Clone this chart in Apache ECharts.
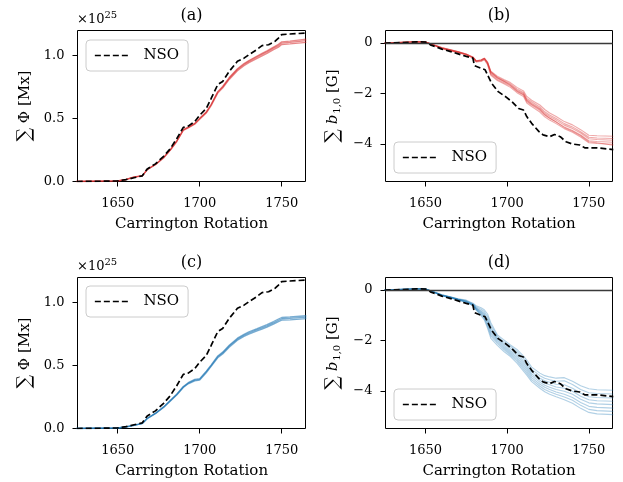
<!DOCTYPE html>
<html><head><meta charset="utf-8">
<script src="https://cdn.jsdelivr.net/npm/echarts@6/dist/echarts.min.js"></script>
<style>html,body{margin:0;padding:0;background:#fff}#c{width:623px;height:482px}</style>
</head><body><div id="c"></div>
<script>
// ---------- tick labels ----------
const xTicks = [1650, 1700, 1750];
const fluxTicks = [0, 0.5, 1.0];
const dipTicks = [0, -2, -4];
const panelTitles = ['(a)', '(b)', '(c)', '(d)'];

// ---------- NSO observations (shared by top and bottom rows) ----------
const nsoFluxCR = [1625, 1640, 1650, 1655, 1660, 1665, 1666, 1668, 1673, 1678, 1682, 1686, 1690, 1693, 1697, 1700, 1704, 1707, 1711, 1714, 1718, 1723, 1727, 1730, 1735, 1738, 1742, 1746, 1748, 1750, 1755, 1765];
const nsoFlux   = [0, 0.002, 0.005, 0.015, 0.03, 0.045, 0.05, 0.10, 0.14, 0.20, 0.26, 0.34, 0.43, 0.44, 0.476, 0.527, 0.58, 0.66, 0.77, 0.795, 0.875, 0.955, 0.98, 1.008, 1.05, 1.08, 1.087, 1.115, 1.14, 1.168, 1.172, 1.18];

const nsoDipCR = [1625, 1635, 1645, 1650, 1653, 1657, 1660, 1665, 1670, 1675, 1679, 1680, 1684, 1686.5, 1688.5, 1690.5, 1694.5, 1699, 1703, 1707, 1710, 1712, 1715, 1719.5, 1722, 1726, 1729, 1732.5, 1736, 1740, 1744.5, 1747.5, 1755, 1765];
const nsoDip   = [0, 0.02, 0.05, 0.04, -0.07, -0.16, -0.24, -0.33, -0.43, -0.53, -0.6, -0.9, -1.0, -1.06, -1.33, -1.6, -1.93, -2.13, -2.33, -2.6, -2.66, -2.92, -3.19, -3.52, -3.65, -3.72, -3.63, -3.72, -3.92, -4.01, -4.05, -4.16, -4.16, -4.23];

// ---------- model flux ensembles ----------
const simFluxCR = [1625, 1650, 1655, 1660, 1665, 1668, 1673, 1678, 1682, 1686, 1690, 1693, 1697, 1700, 1704, 1707, 1711, 1714, 1718, 1723, 1727, 1730, 1735, 1738, 1741, 1745, 1748, 1750, 1755, 1765];
const fluxRed1 = [0, 0.005, 0.016, 0.036, 0.046, 0.096, 0.136, 0.192, 0.252, 0.322, 0.412, 0.432, 0.462, 0.502, 0.553, 0.614, 0.714, 0.755, 0.826, 0.896, 0.937, 0.962, 0.997, 1.018, 1.038, 1.068, 1.09, 1.11, 1.116, 1.132];
const fluxRed2 = [0, 0.005, 0.015, 0.035, 0.045, 0.095, 0.135, 0.19, 0.25, 0.32, 0.41, 0.43, 0.46, 0.50, 0.55, 0.61, 0.71, 0.75, 0.82, 0.89, 0.93, 0.955, 0.99, 1.01, 1.03, 1.06, 1.08, 1.10, 1.105, 1.12];
const fluxRed3 = [0, 0.005, 0.014, 0.034, 0.044, 0.093, 0.133, 0.187, 0.247, 0.316, 0.405, 0.425, 0.455, 0.494, 0.544, 0.603, 0.702, 0.742, 0.811, 0.88, 0.92, 0.945, 0.978, 0.998, 1.018, 1.048, 1.068, 1.088, 1.093, 1.106];

const fluxBlue1 = [0, 0.004, 0.013, 0.026, 0.041, 0.081, 0.121, 0.172, 0.222, 0.273, 0.334, 0.364, 0.39, 0.396, 0.456, 0.506, 0.577, 0.607, 0.662, 0.718, 0.748, 0.769, 0.794, 0.81, 0.825, 0.85, 0.87, 0.882, 0.886, 0.896];
const fluxBlue2 = [0, 0.004, 0.013, 0.025, 0.04, 0.08, 0.12, 0.17, 0.22, 0.27, 0.33, 0.36, 0.385, 0.39, 0.45, 0.50, 0.57, 0.60, 0.655, 0.71, 0.74, 0.76, 0.785, 0.80, 0.815, 0.84, 0.86, 0.872, 0.875, 0.885];
const fluxBlue3 = [0, 0.004, 0.012, 0.024, 0.039, 0.078, 0.118, 0.167, 0.217, 0.266, 0.325, 0.355, 0.379, 0.384, 0.443, 0.493, 0.562, 0.592, 0.646, 0.701, 0.731, 0.75, 0.775, 0.79, 0.805, 0.829, 0.849, 0.861, 0.864, 0.873];

// ---------- model dipole ensembles ----------
const simDipCR = [1625, 1645, 1650, 1655, 1660, 1665, 1670, 1675, 1679, 1681, 1684, 1686, 1688, 1690, 1694, 1698, 1702, 1706, 1710, 1712, 1715, 1720, 1723, 1726, 1730, 1735, 1740, 1745, 1750, 1755, 1765];
const dipRed1 = [0, .05, .04, -.07, -.18, -.26, -.34, -.43, -.55, -.70, -.66, -.60, -.75, -1.12, -1.32, -1.45, -1.57, -1.76, -1.90, -2.12, -2.27, -2.46, -2.64, -2.78, -2.92, -3.12, -3.25, -3.44, -3.66, -3.68, -3.70];
const dipRed2 = [0, .05, .04, -.08, -.19, -.27, -.35, -.44, -.56, -.71, -.68, -.61, -.78, -1.16, -1.36, -1.49, -1.62, -1.82, -1.96, -2.20, -2.33, -2.54, -2.73, -2.86, -3.00, -3.20, -3.33, -3.52, -3.74, -3.77, -3.79];
const dipRed3 = [0, .05, .04, -.08, -.20, -.28, -.36, -.45, -.57, -.72, -.69, -.62, -.80, -1.20, -1.40, -1.53, -1.66, -1.86, -2.00, -2.25, -2.39, -2.60, -2.79, -2.92, -3.06, -3.26, -3.39, -3.57, -3.80, -3.83, -3.86];
const dipRed4 = [0, .05, .04, -.09, -.21, -.29, -.37, -.46, -.58, -.74, -.71, -.64, -.83, -1.24, -1.45, -1.58, -1.71, -1.92, -2.06, -2.32, -2.46, -2.67, -2.86, -2.99, -3.13, -3.33, -3.47, -3.65, -3.88, -3.91, -3.94];
const dipRed5 = [0, .05, .04, -.09, -.22, -.30, -.38, -.47, -.59, -.75, -.73, -.66, -.86, -1.28, -1.49, -1.62, -1.76, -1.97, -2.12, -2.38, -2.52, -2.74, -2.93, -3.06, -3.20, -3.40, -3.54, -3.73, -3.96, -3.99, -4.02];
const dipRed6 = [0, .05, .04, -.07, -.19, -.27, -.35, -.44, -.56, -.71, -.67, -.60, -.77, -1.14, -1.38, -1.52, -1.68, -1.90, -2.04, -2.28, -2.43, -2.63, -2.84, -2.98, -3.14, -3.36, -3.50, -3.68, -3.92, -3.96, -4.06];

const dipBlue1 = [0, .05, .04, -.07, -.19, -.27, -.35, -.40, -.52, -.62, -.70, -.78, -.95, -1.30, -1.78, -1.98, -2.18, -2.36, -2.62, -2.78, -3.06, -3.30, -3.40, -3.45, -3.50, -3.48, -3.62, -3.80, -3.92, -3.96, -3.98];
const dipBlue2 = [0, .05, .04, -.07, -.19, -.27, -.36, -.42, -.54, -.66, -.76, -.85, -1.05, -1.40, -1.84, -2.05, -2.24, -2.44, -2.72, -2.88, -3.15, -3.40, -3.50, -3.56, -3.62, -3.60, -3.75, -3.95, -4.08, -4.11, -4.13];
const dipBlue3 = [0, .05, .04, -.08, -.20, -.28, -.37, -.44, -.56, -.70, -.82, -.92, -1.15, -1.50, -1.90, -2.12, -2.32, -2.52, -2.82, -2.98, -3.25, -3.50, -3.60, -3.66, -3.74, -3.76, -3.90, -4.10, -4.24, -4.27, -4.29];
const dipBlue4 = [0, .05, .04, -.08, -.20, -.28, -.37, -.45, -.57, -.72, -.86, -.97, -1.22, -1.58, -1.95, -2.18, -2.40, -2.60, -2.90, -3.06, -3.33, -3.58, -3.70, -3.76, -3.85, -3.90, -4.02, -4.22, -4.36, -4.40, -4.42];
const dipBlue5 = [0, .05, .04, -.08, -.21, -.29, -.38, -.46, -.58, -.74, -.90, -1.02, -1.30, -1.66, -2.00, -2.24, -2.46, -2.68, -2.98, -3.14, -3.40, -3.66, -3.78, -3.86, -3.95, -4.02, -4.14, -4.34, -4.48, -4.52, -4.55];
const dipBlue6 = [0, .05, .04, -.09, -.21, -.29, -.38, -.47, -.59, -.76, -.94, -1.08, -1.38, -1.74, -2.06, -2.30, -2.52, -2.75, -3.06, -3.22, -3.48, -3.74, -3.86, -3.95, -4.05, -4.14, -4.27, -4.47, -4.62, -4.66, -4.69];
const dipBlue7 = [0, .05, .04, -.09, -.22, -.30, -.39, -.48, -.60, -.78, -.98, -1.12, -1.45, -1.82, -2.12, -2.36, -2.58, -2.82, -3.14, -3.30, -3.56, -3.82, -3.95, -4.04, -4.14, -4.25, -4.38, -4.58, -4.74, -4.79, -4.82];
const dipBlue8 = [0, .05, .04, -.09, -.22, -.30, -.39, -.49, -.61, -.80, -1.02, -1.18, -1.52, -1.92, -2.20, -2.44, -2.64, -2.90, -3.22, -3.38, -3.64, -3.90, -4.04, -4.14, -4.24, -4.36, -4.50, -4.70, -4.86, -4.92, -4.95];

// ---------- build ----------
const FONT = "'DejaVu Serif', serif";
const RED = '#d62728', BLUE = '#1f77b4';
const zip = (xs, ys) => xs.map((x, i) => [x, ys[i]]);

const grids = [
  {left: 77.5, top: 30.5, width: 228, height: 151},
  {left: 385.5, top: 30.5, width: 227, height: 151},
  {left: 77.5, top: 277.5, width: 228, height: 151},
  {left: 385.5, top: 277.5, width: 227, height: 151}
].map(g => Object.assign(g, {show: true, borderColor: '#000', borderWidth: 1, backgroundColor: 'transparent', containLabel: false}));

const xAxes = grids.map((g, i) => ({
  type: 'value', gridIndex: i, min: 1625.5, max: 1764.5,
  name: 'Carrington Rotation', nameLocation: 'middle', nameGap: 35,
  nameTextStyle: {fontFamily: FONT, fontSize: 15, color: '#000'},
  axisLine: {show: false, onZero: false},
  axisTick: {show: true, length: 5, lineStyle: {color: '#000', width: 1}, customValues: xTicks},
  axisLabel: {fontFamily: FONT, fontSize: 13, color: '#000', margin: 16, customValues: xTicks, formatter: v => String(v)},
  splitLine: {show: false}
}));

const txt = {fontFamily: FONT, fontSize: 15, color: '#000'};
const sumStyle = {fontFamily: FONT, fontSize: 19, color: '#000'};
const fluxRich = {s: sumStyle, t: txt};
const dipRich = {
  s: sumStyle,
  i: {fontFamily: FONT, fontSize: 15, fontStyle: 'italic', color: '#000'},
  sub: {fontFamily: FONT, fontSize: 10, color: '#000', verticalAlign: 'bottom', padding: [6, 0, 0, 1]},
  t: txt
};

const yAxes = grids.map((g, i) => {
  const isFlux = (i % 2 === 0);
  return {
    type: 'value', gridIndex: i,
    min: isFlux ? 0 : -5.5, max: isFlux ? 1.2 : 0.5,
    name: isFlux ? '{s|\u2211}{t| \u03a6 [Mx]}' : '{s|\u2211}{i| b}{sub|1,0}{t| [G]}',
    nameLocation: 'middle', nameRotate: 90, nameGap: 43,
    nameTextStyle: {fontFamily: FONT, fontSize: 15, color: '#000', rich: isFlux ? fluxRich : dipRich},
    axisLine: {show: false},
    axisTick: {show: true, length: 5, lineStyle: {color: '#000', width: 1}, customValues: isFlux ? fluxTicks : dipTicks},
    axisLabel: {
      fontFamily: FONT, fontSize: 13, color: '#000', margin: 13,
      customValues: isFlux ? fluxTicks : dipTicks,
      formatter: v => isFlux ? v.toFixed(1) : (v < 0 ? '\u2212' + Math.abs(v) : String(v))
    },
    splitLine: {show: false}
  };
});

const series = [];
function ens(idx, xs, arrs, color, op, w) {
  arrs.forEach(a => series.push({
    type: 'line', xAxisIndex: idx, yAxisIndex: idx, data: zip(xs, a),
    symbol: 'none', showSymbol: false, silent: true, z: 2,
    lineStyle: {color: color, width: w, opacity: op}
  }));
}
ens(0, simFluxCR, [fluxRed1, fluxRed2, fluxRed3], RED, 0.55, 1.3);
ens(1, simDipCR, [dipRed1, dipRed2, dipRed3, dipRed4, dipRed5, dipRed6], RED, 0.4, 1.1);
ens(2, simFluxCR, [fluxBlue1, fluxBlue2, fluxBlue3], BLUE, 0.6, 1.3);
ens(3, simDipCR, [dipBlue1, dipBlue2, dipBlue3, dipBlue4, dipBlue5, dipBlue6, dipBlue7, dipBlue8], BLUE, 0.35, 1.1);

for (let i = 0; i < 4; i++) {
  const isFlux = (i % 2 === 0);
  const s = {
    name: 'NSO', type: 'line', xAxisIndex: i, yAxisIndex: i,
    data: isFlux ? zip(nsoFluxCR, nsoFlux) : zip(nsoDipCR, nsoDip),
    symbol: 'none', showSymbol: false, z: 4,
    lineStyle: {color: '#000', width: 1.7, type: [6, 3]},
    itemStyle: {color: '#000'}
  };
  if (!isFlux) {
    s.markLine = {
      silent: true, symbol: 'none', label: {show: false}, animation: false,
      lineStyle: {color: '#3a3a3a', type: 'solid', width: 1.3},
      data: [{yAxis: 0}]
    };
  }
  series.push(s);
}

const legendPos = [[86, 40], [394, 142], [86, 286], [394, 389]];
const legends = legendPos.map(p => ({
  left: p[0], top: p[1], data: ['NSO'], orient: 'vertical',
  itemWidth: 34, itemHeight: 14, padding: [8, 9, 8, 8],
  formatter: n => '  ' + n,
  itemStyle: {opacity: 0},
  lineStyle: {color: '#000', width: 1.7, type: [6, 3]},
  borderColor: '#cccccc', borderWidth: 1, borderRadius: 4,
  backgroundColor: 'rgba(255,255,255,0.8)',
  textStyle: {fontFamily: FONT, fontSize: 15, color: '#000'},
  selectedMode: false
}));

const graphics = [];
const titlePos = [[191.5, 16], [499, 16], [191.5, 263], [499, 263]];
titlePos.forEach((p, i) => graphics.push({
  type: 'text', x: p[0], y: p[1],
  style: {text: panelTitles[i], font: '16px ' + FONT, fill: '#000', align: 'center', verticalAlign: 'middle'}
}));
[[20, 15], [267, 262]].forEach(p => {
  graphics.push({type: 'text', x: 77, y: p[0], style: {text: '\u00d710', font: '13px ' + FONT, fill: '#000', align: 'left', verticalAlign: 'middle'}});
  graphics.push({type: 'text', x: 104.5, y: p[1], style: {text: '25', font: '10px ' + FONT, fill: '#000', align: 'left', verticalAlign: 'middle'}});
});

const chart = echarts.init(document.getElementById('c'), null, {renderer: 'canvas'});
chart.setOption({
  animation: false,
  backgroundColor: '#fff',
  grid: grids, xAxis: xAxes, yAxis: yAxes,
  legend: legends, series: series, graphic: graphics
});
</script></body></html>
